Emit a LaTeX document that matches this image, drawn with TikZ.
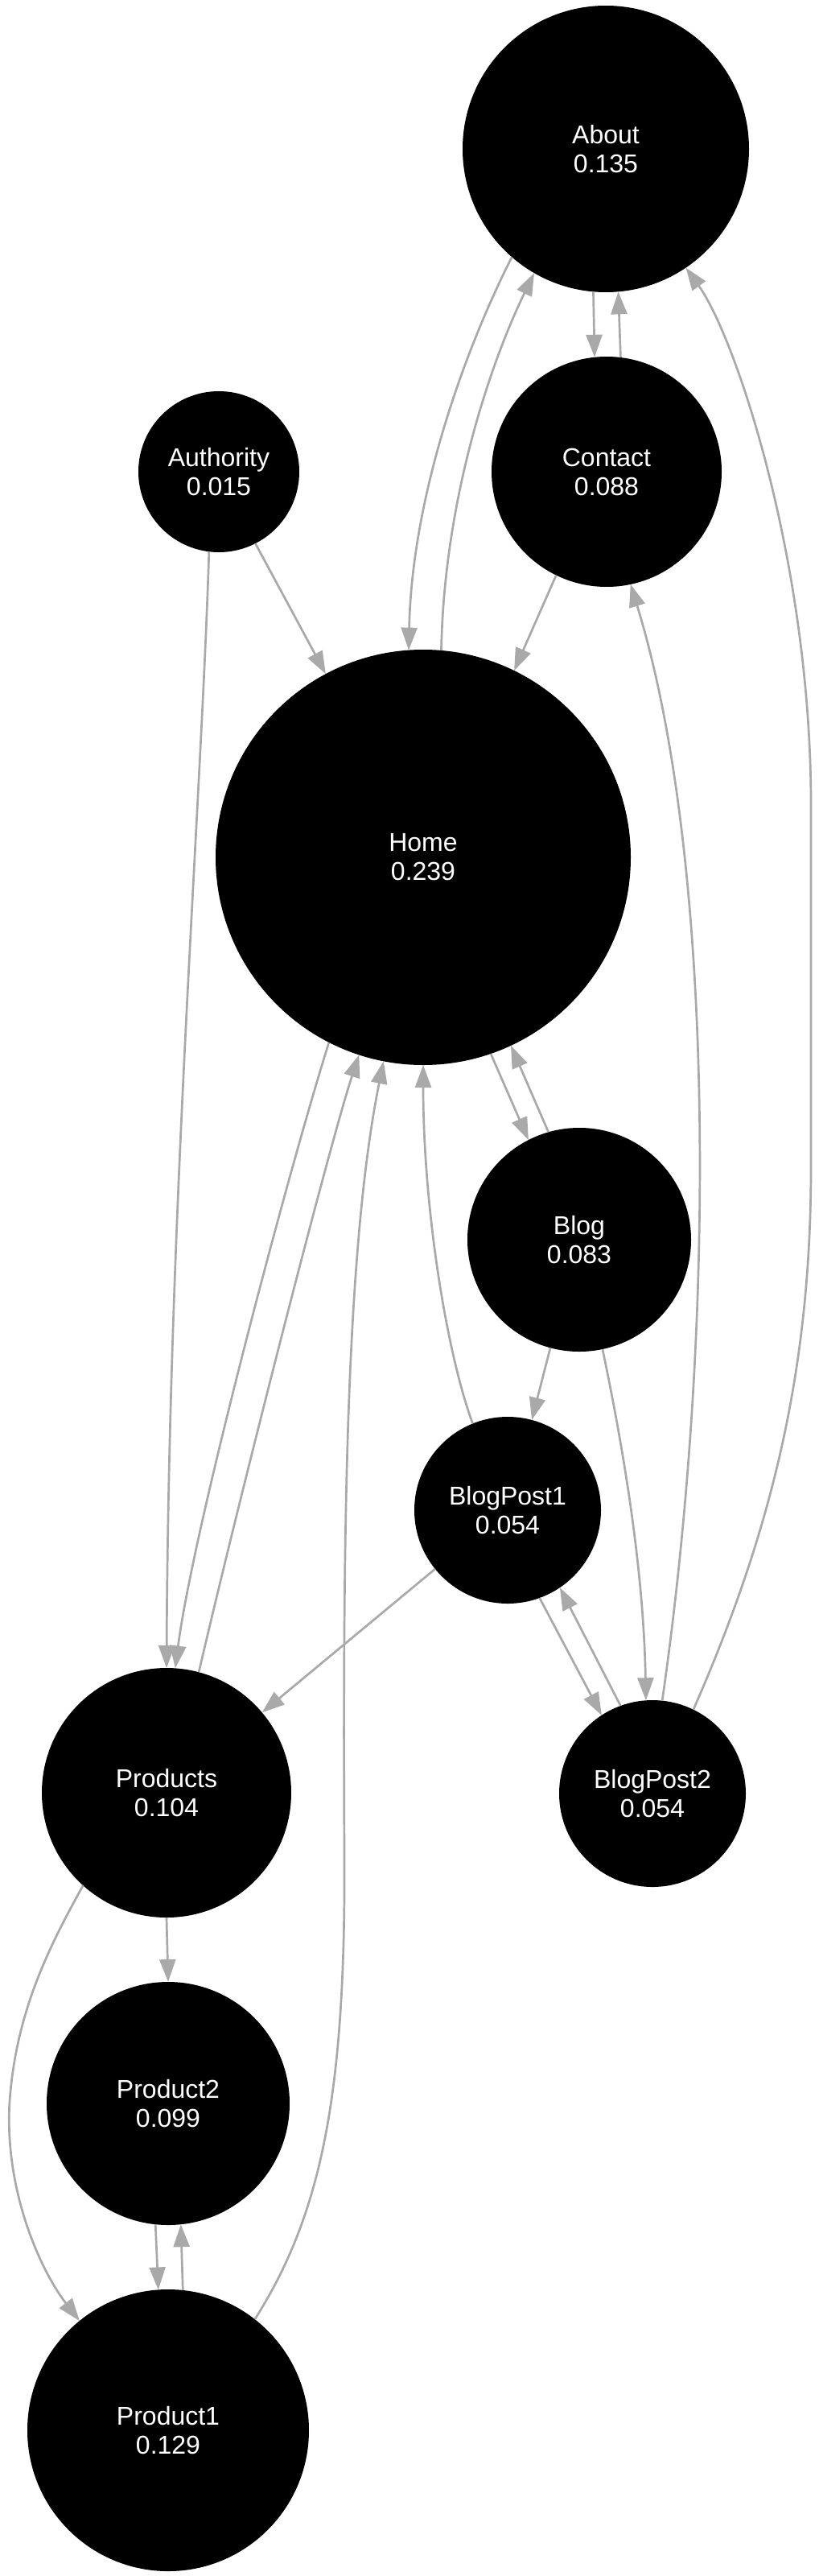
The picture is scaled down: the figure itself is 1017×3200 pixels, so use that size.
\documentclass[tikz,border=0pt]{standalone}
\usepackage{fontspec}
\setmainfont{Liberation Sans}
\usetikzlibrary{arrows.meta}
\definecolor{edgegray}{HTML}{A9A9A9}
\begin{document}
\begin{tikzpicture}[x=1pt,y=-1pt,
  pagenode/.style={circle,fill=black,inner sep=0pt,outer sep=0pt,text=white,align=center,font=\fontsize{32}{36}\selectfont},
  link/.style={draw=edgegray,line width=2.7pt,-{Triangle[length=28pt,width=20pt]}}]
\useasboundingbox (0,0) rectangle (1017,3200);
\node[pagenode,minimum size=356pt] (About) at (753,185) {About\\0.135};
\node[pagenode,minimum size=286pt] (Contact) at (754,586) {Contact\\0.088};
\node[pagenode,minimum size=200pt] (Authority) at (272,586) {Authority\\0.015};
\node[pagenode,minimum size=516pt] (Home) at (526,1065) {Home\\0.239};
\node[pagenode,minimum size=278pt] (Blog) at (720,1540) {Blog\\0.083};
\node[pagenode,minimum size=232pt] (BlogPost1) at (631,1876) {BlogPost1\\0.054};
\node[pagenode,minimum size=232pt] (BlogPost2) at (811,2228) {BlogPost2\\0.054};
\node[pagenode,minimum size=310pt] (Products) at (207,2227) {Products\\0.104};
\node[pagenode,minimum size=302pt] (Product2) at (209,2613) {Product2\\0.099};
\node[pagenode,minimum size=350pt] (Product1) at (209,3019) {Product1\\0.129};

\draw[link] (About.229) .. controls (575,440) and (512,620) .. (Home.94);
\draw[link] (Home.85) .. controls (552,620) and (610,450) .. (About.240);
\draw[link] (About.265.5) -- (Contact.96);
\draw[link] (Contact.83.6) -- (About.275.5);
\draw[link] (Contact.244) -- (Home.64.5);
\draw[link] (BlogPost2.84) .. controls (890,1650) and (890,1070) .. (Contact.282);
\draw[link] (BlogPost2.64) .. controls (960,1900) and (1008,1700) .. (1008,1450) -- (1008,1000) .. controls (1008,700) and (915,420) .. (About.304.6);
\draw[link] (Authority.297) -- (Home.118);
\draw[link] (Authority.263) .. controls (250,1000) and (210,1500) .. (Products.90);
\draw[link] (Home.243) .. controls (360,1450) and (240,1900) .. (Products.86);
\draw[link] (Products.75) .. controls (300,1850) and (410,1420) .. (Home.252);
\draw[link] (Product1.52) .. controls (400,2750) and (430,2600) .. (428,2300) .. controls (426,1900) and (430,1550) .. (Home.259.5);
\draw[link] (BlogPost1.112) .. controls (555,1680) and (526,1500) .. (Home.270);
\draw[link] (Home.289) -- (Blog.117);
\draw[link] (Blog.106) -- (Home.295.4);
\draw[link] (Blog.255) -- (BlogPost1.75.6);
\draw[link] (Blog.282.4) .. controls (775,1800) and (800,1950) .. (BlogPost2.94);
\draw[link] (BlogPost1.219.5) -- (Products.40.3);
\draw[link] (BlogPost1.290) -- (BlogPost2.123.7);
\draw[link] (BlogPost2.110) -- (BlogPost1.304.5);
\draw[link] (Products.south) -- (Product2.north);
\draw[link] (Products.228.6) .. controls (60,2420) and (20,2500) .. (12,2610) .. controls (5,2720) and (50,2820) .. (Product1.129.4);
\draw[link] (Product2.264.3) -- (Product1.94.9);
\draw[link] (Product1.84.8) -- (Product2.276);
\end{tikzpicture}
\end{document}
